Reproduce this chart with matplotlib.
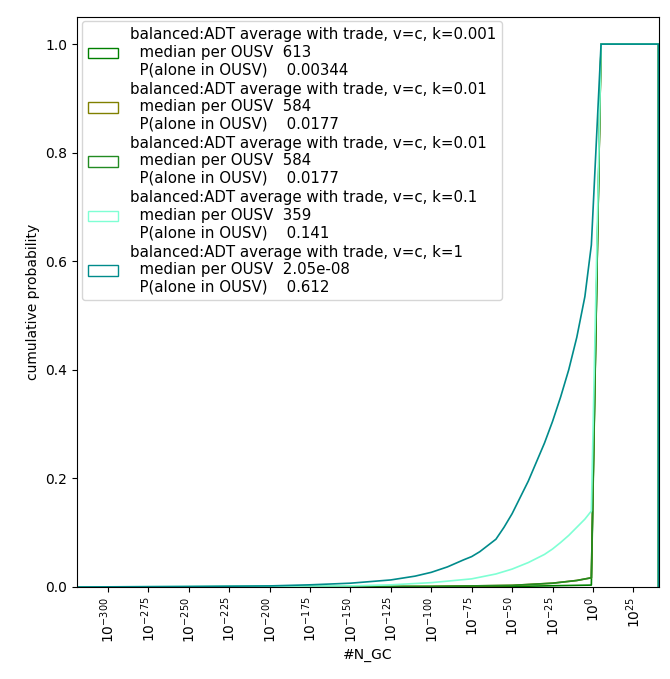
import matplotlib
matplotlib.use("Agg")
import matplotlib.pyplot as plt
from matplotlib.patches import Patch

# x values are log10(#N_GC)
x_k1 = [-319, -250, -200, -175, -150, -125, -110, -100, -90, -80, -75, -70, -60, -55, -50, -45, -40,
        -35, -30, -25, -20, -15, -10, -5, -1, 5, 40.5, 40.5]
y_k1 = [0.0, 0.001, 0.002, 0.004, 0.007, 0.013, 0.02, 0.027, 0.037, 0.05, 0.056, 0.065, 0.088, 0.11,
        0.135, 0.165, 0.195, 0.23, 0.265, 0.305, 0.35, 0.40, 0.46, 0.535, 0.63, 1.0, 1.0, 0.0]

x_k01 = [-319, -150, -125, -100, -75, -60, -50, -40, -30, -25, -20, -15, -10, -5, -1, 5, 40.5, 40.5]
y_k01 = [0.0, 0.002, 0.004, 0.008, 0.015, 0.024, 0.033, 0.045, 0.06, 0.07, 0.082, 0.095, 0.11, 0.125,
         0.14, 1.0, 1.0, 0.0]

x_k001 = [-319, -100, -75, -50, -25, -10, -1, 5, 40.5, 40.5]
y_k001 = [0.0, 0.001, 0.002, 0.003, 0.007, 0.012, 0.017, 1.0, 1.0, 0.0]

x_k0001 = [-319, -50, -1, 5, 40.5, 40.5]
y_k0001 = [0.0, 0.001, 0.0035, 1.0, 1.0, 0.0]

labels = [
    "balanced:ADT average with trade, v=c, k=0.001\n  median per OUSV  613\n  P(alone in OUSV)    0.00344",
    "balanced:ADT average with trade, v=c, k=0.01\n  median per OUSV  584\n  P(alone in OUSV)    0.0177",
    "balanced:ADT average with trade, v=c, k=0.01\n  median per OUSV  584\n  P(alone in OUSV)    0.0177",
    "balanced:ADT average with trade, v=c, k=0.1\n  median per OUSV  359\n  P(alone in OUSV)    0.141",
    "balanced:ADT average with trade, v=c, k=1\n  median per OUSV  2.05e-08\n  P(alone in OUSV)    0.612",
]
colors = ["green", "olive", "forestgreen", "aquamarine", "darkcyan"]
series = [(x_k0001, y_k0001), (x_k001, y_k001), (x_k001, y_k001), (x_k01, y_k01), (x_k1, y_k1)]

fig = plt.figure(figsize=(6.7, 6.79), dpi=100)
ax = fig.add_axes([0.115, 0.1355, 0.869, 0.8395])

for (xs, ys), c in zip(series, colors):
    ax.plot(xs, ys, color=c, lw=1.2)

ax.set_xlim(-319, 41)
ax.set_ylim(0, 1.05)
ticks = list(range(-300, 26, 25))
ax.set_xticks(ticks)
ax.set_xticklabels([r"$10^{%d}$" % t for t in ticks], rotation=90)
ax.set_yticks([0, 0.2, 0.4, 0.6, 0.8, 1.0])
ax.set_xlabel("#N_GC")
ax.set_ylabel("cumulative probability")

handles = [Patch(facecolor="none", edgecolor=c) for c in colors]
ax.legend(handles, labels, loc="upper left", fontsize=10.8, labelspacing=0.3,
          borderaxespad=0.3)

fig.savefig("out.png", dpi=100)
